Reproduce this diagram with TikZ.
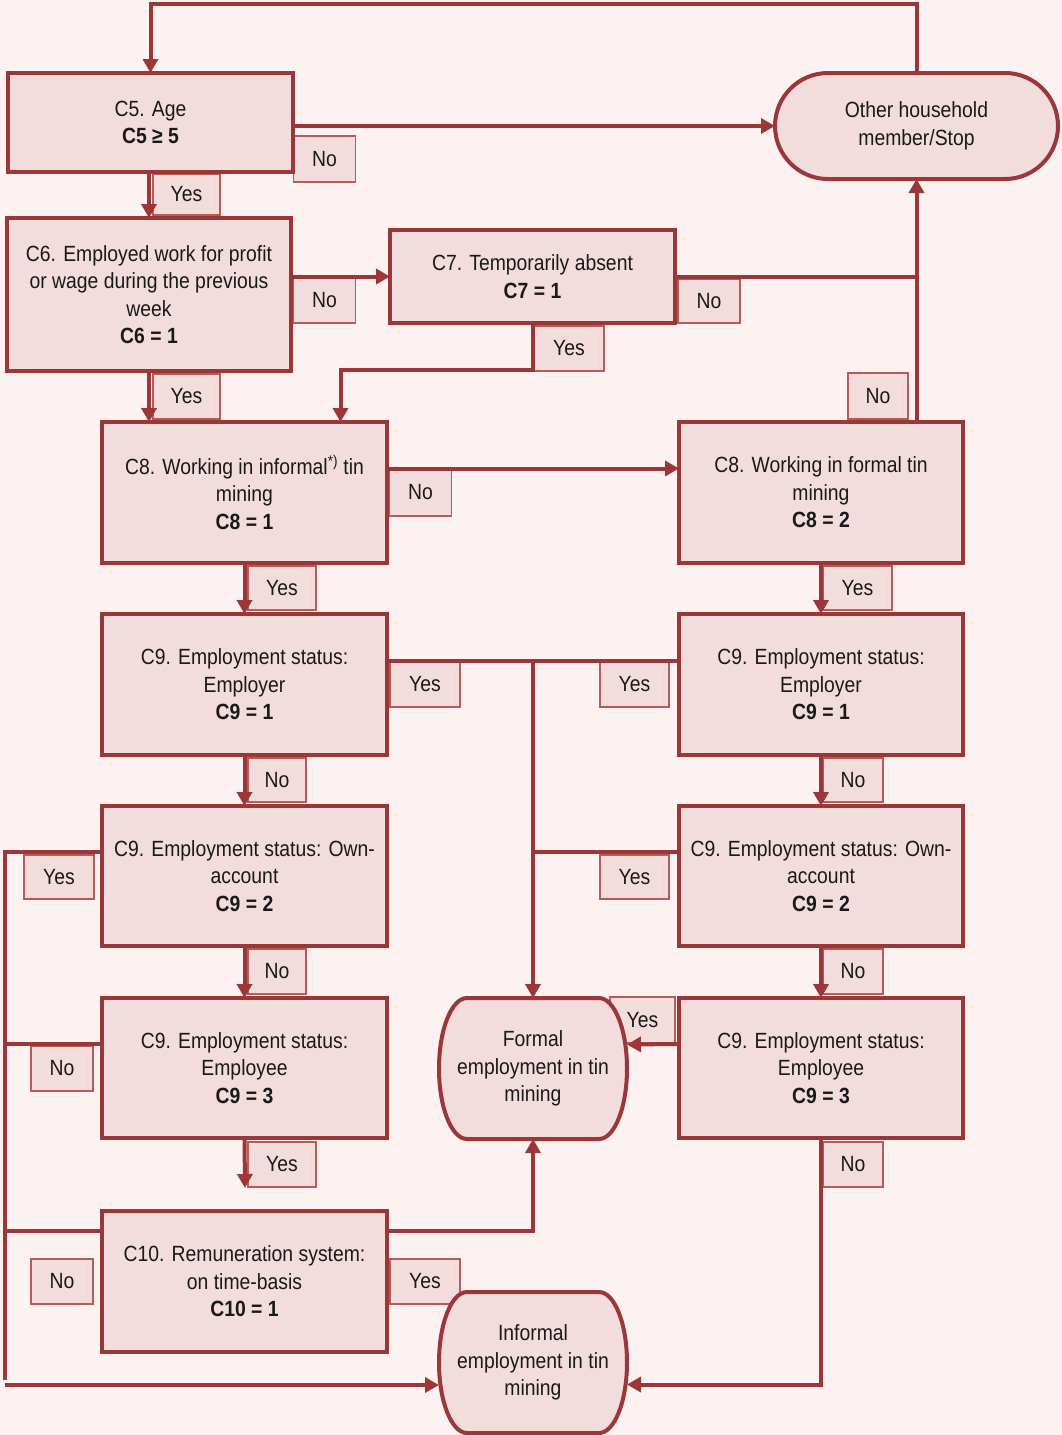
\documentclass[tikz,border=0pt]{standalone}
\usepackage{fontspec}
\setmainfont{Liberation Sans}[FakeStretch=0.88]
\usetikzlibrary{arrows.meta,calc}
\definecolor{bgc}{RGB}{253,242,242}
\definecolor{boxfill}{RGB}{242,220,220}
\definecolor{linec}{RGB}{155,55,55}
\definecolor{lblline}{RGB}{185,90,90}
\definecolor{txt}{RGB}{25,25,25}
\pgfdeclarelayer{bg}
\pgfdeclarelayer{mid}
\pgfsetlayers{bg,mid,main}
\begin{document}
\begin{tikzpicture}[x=1pt,y=-1pt,
 every node/.append style={font=\fontsize{22}{27.5}\selectfont, text=txt},
 box/.style={draw=linec, line width=4pt, fill=boxfill, align=center, inner sep=0pt, outer sep=0pt},
 lbl/.style={draw=lblline, line width=1.5pt, fill=boxfill, inner sep=0pt, outer sep=0pt, minimum width=62pt, minimum height=46pt},
 term/.style={align=center, inner sep=0pt, outer sep=0pt, minimum width=188pt, minimum height=141pt},
 conn/.style={draw=linec, line width=4pt},
 arr/.style={conn, -{Triangle[length=14pt,width=15pt]}},
]
\useasboundingbox (0,0) rectangle (1062,1435);
\begin{pgfonlayer}{bg}
\fill[bgc] (0,0) rectangle (1062,1435);
\end{pgfonlayer}

% main boxes
\node[box, minimum width=285pt, minimum height=99pt] (c5) at (150.5,122.5) {C5. Age\\\textbf{C5 ≥ 5}};
\node[box, minimum width=284pt, minimum height=153pt] (c6) at (149,294.5) {C6. Employed work for profit\\or wage during the previous\\week\\\textbf{C6 = 1}};
\node[box, minimum width=285pt, minimum height=93pt] (c7) at (532.5,276.5) {C7. Temporarily absent\\\textbf{C7 = 1}};
\node[box, rounded corners=53pt, minimum width=283pt, minimum height=106pt] (stop) at (916.5,126) {Other household\\member/Stop};
\node[box, minimum width=285pt, minimum height=141pt] (c8i) at (244.5,492.5) {C8. Working in informal\textsuperscript{*)} tin\\mining\\\textbf{C8 = 1}};
\node[box, minimum width=284pt, minimum height=141pt] (c8f) at (821,492.5) {C8. Working in formal tin\\mining\\\textbf{C8 = 2}};
\node[box, minimum width=285pt, minimum height=141pt] (c9aL) at (244.5,684.5) {C9. Employment status:\\Employer\\\textbf{C9 = 1}};
\node[box, minimum width=284pt, minimum height=141pt] (c9aR) at (821,684.5) {C9. Employment status:\\Employer\\\textbf{C9 = 1}};
\node[box, minimum width=285pt, minimum height=140pt] (c9bL) at (244.5,876) {C9. Employment status: Own-\\account\\\textbf{C9 = 2}};
\node[box, minimum width=284pt, minimum height=140pt] (c9bR) at (821,876) {C9. Employment status: Own-\\account\\\textbf{C9 = 2}};
\node[box, minimum width=285pt, minimum height=140pt] (c9cL) at (244.5,1068) {C9. Employment status:\\Employee\\\textbf{C9 = 3}};
\node[box, minimum width=284pt, minimum height=140pt] (c9cR) at (821,1068) {C9. Employment status:\\Employee\\\textbf{C9 = 3}};
\node[box, minimum width=285pt, minimum height=141pt] (c10) at (244.5,1281.5) {C10. Remuneration system:\\on time-basis\\\textbf{C10 = 1}};
\node[term] (formal) at (533,1068.5) {Formal\\employment in tin\\mining};
\node[term] (informal) at (533,1362.5) {Informal\\employment in tin\\mining};

\begin{pgfonlayer}{mid}
\foreach \n in {formal,informal}{
 \path[box] ($(\n.north west)+(28,0)$) -- ($(\n.north east)+(-28,0)$)
   arc[start angle=-90,end angle=90,x radius=28,y radius=70.5]
   -- ($(\n.south west)+(28,0)$)
   arc[start angle=90,end angle=270,x radius=28,y radius=70.5] -- cycle;
}
\end{pgfonlayer}

% labels
\begin{pgfonlayer}{bg}
\node[lbl] (n5) at (324.5,159) {No};
\node[lbl, minimum width=67pt, minimum height=41pt] (y5) at (186.5,194.5) {Yes};
\node[lbl] (n6) at (324.5,300) {No};
\node[lbl, minimum height=44pt] (n7) at (709,301) {No};
\node[lbl, minimum width=70pt, minimum height=45pt] (y7) at (569,348.5) {Yes};
\node[lbl, minimum width=67pt, minimum height=45pt] (y6) at (186.5,396.5) {Yes};
\node[lbl, minimum width=60pt] (n8f) at (878,396) {No};
\node[lbl, minimum height=47pt] (n8i) at (420.5,492.5) {No};
\node[lbl, minimum width=68pt, minimum height=44pt] (y8i) at (282,588) {Yes};
\node[lbl, minimum width=69pt, minimum height=44pt] (y8f) at (857.5,588) {Yes};
\node[lbl, minimum width=70pt] (y9aL) at (425,684) {Yes};
\node[lbl, minimum width=69pt] (y9aR) at (634.5,684) {Yes};
\node[lbl, minimum width=58pt, minimum height=44pt] (n9aL) at (277,780) {No};
\node[lbl, minimum width=60pt, minimum height=44pt] (n9aR) at (853,780) {No};
\node[lbl, minimum width=70pt, minimum height=44pt] (y9bL) at (59,877) {Yes};
\node[lbl, minimum width=69pt, minimum height=44pt] (y9bR) at (634.5,877) {Yes};
\node[lbl, minimum width=58pt, minimum height=45pt] (n9bL) at (277,971.5) {No};
\node[lbl, minimum width=60pt, minimum height=45pt] (n9bR) at (853,971.5) {No};
\node[lbl, minimum width=62pt, minimum height=45pt] (n9cL) at (62,1068.5) {No};
\node[lbl, minimum width=65pt, minimum height=46pt] (y9cR) at (642.5,1020) {Yes};
\node[lbl, minimum width=68pt, minimum height=45pt] (y9cL) at (282,1164.5) {Yes};
\node[lbl, minimum width=60pt, minimum height=45pt] (n9cR) at (853,1164.5) {No};
\node[lbl, minimum width=62pt, minimum height=45pt] (n10) at (62,1281.5) {No};
\node[lbl, minimum width=70pt, minimum height=45pt] (y10) at (425,1281.5) {Yes};
\end{pgfonlayer}

% connectors
\coordinate (lbot) at (5,1380);
\coordinate (bstart) at (5,1385);
\coordinate (c9cLend) at (245,1188);
\draw[arr] (stop.north) -- ++(0,-69) -| (c5.north);
\draw[arr] (c5.east |- stop.west) -- (stop.west);
\draw[arr] (c5.south -| c6.north) -- (c6.north);
\draw[arr] (c6.east |- c7.west) -- (c7.west);
\draw[conn] (c7.east) -- (c7.east -| stop.south);
\draw[arr] (c8f.north -| stop.south) -- (stop.south);
\draw[arr] (c7.south) -- ++(0,47) -| ([xshift=96pt]c8i.north);
\draw[arr] (c6.south) -- (c6.south |- c8i.north);
\draw[arr] ([yshift=24pt]c8i.east) -- ([yshift=24pt]c8f.west);
\draw[arr] (c8i.south) -- (c9aL.north);
\draw[arr] (c8f.south) -- (c9aR.north);
\draw[conn] ([yshift=24pt]c9aL.east) -- ([yshift=24pt]c9aR.west);
\draw[arr] ([yshift=24pt]c9aL.east -| formal.north) -- (formal.north);
\draw[arr] (c9aL.south) -- (c9bL.north);
\draw[arr] (c9aR.south) -- (c9bR.north);
\draw[conn] ([yshift=24pt]c9bL.west) -| (lbot);
\draw[conn] ([yshift=24pt]c9bR.west) -- ([yshift=24pt]c9bR.west -| formal.north);
\draw[arr] (c9bL.south) -- (c9cL.north);
\draw[arr] (c9bR.south) -- (c9cR.north);
\draw[conn] ([yshift=24pt]c9cL.west) -- ([yshift=24pt]c9cL.west -| lbot);
\draw[arr] ([yshift=24pt]c9cR.west) -- ([yshift=24pt]formal.east);
\draw[arr] (c9cL.south) -- (c9cLend);
\draw[arr] (c9cR.south) |- ([yshift=-22pt]informal.east);
\draw[conn] ([yshift=51pt]c10.west) -- ([yshift=51pt]c10.west -| lbot);
\draw[arr] ([yshift=51pt]c10.east) -| (formal.south);
\draw[arr] (bstart) -- (bstart -| informal.west);
\end{tikzpicture}
\end{document}
